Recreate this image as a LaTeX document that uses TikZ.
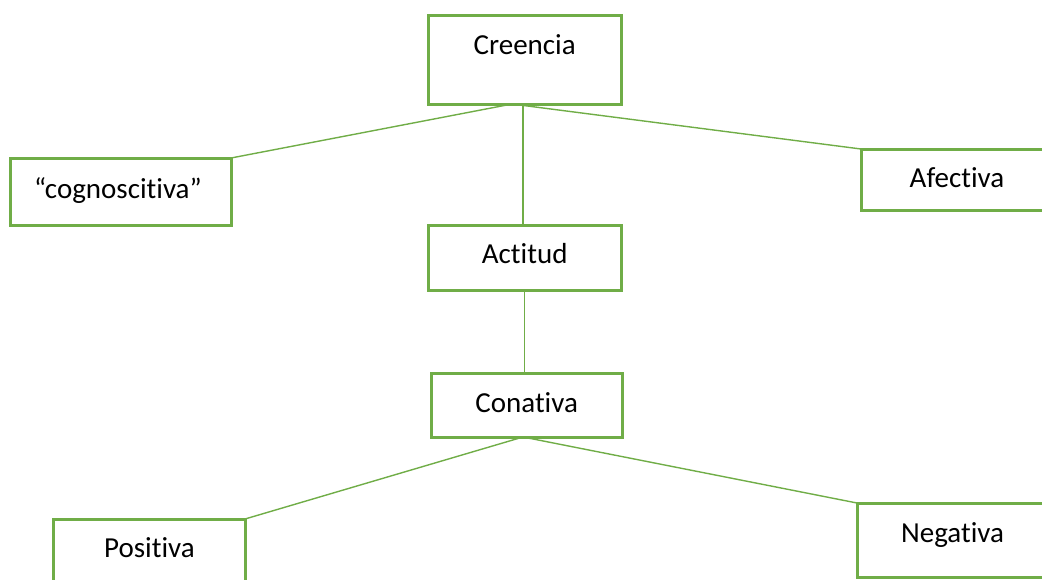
\documentclass[tikz,border=0pt]{standalone}
\usepackage{fontspec}
\setmainfont{Carlito}[Ligatures=NoCommon]
\usetikzlibrary{backgrounds}
\definecolor{leaf}{HTML}{70AD47}
\begin{document}
\begin{tikzpicture}[x=1pt,y=-1pt,
  box/.style={draw=leaf, line width=3pt, fill=white, inner sep=0pt, outer sep=0pt,
    rectangle, minimum width=#1},
  lbl/.style={font=\fontsize{29}{35}\selectfont, anchor=base, inner sep=0pt},
  link/.style={draw=leaf, line width=1.4pt}]
\useasboundingbox (0,0) rectangle (1042,579);
\clip (0,0) rectangle (1042,579);

% boxes (the outer ones run past the page edge)
\node[box=193pt, minimum height=89pt] (creencia) at (524.5,59.5) {};
\node[box=221pt, minimum height=67pt] (cognos) at (120.5,191.5) {};
\node[box=209pt, minimum height=61pt] (afectiva) at (965.5,179.5) {};
\node[box=193pt, minimum height=65pt] (actitud) at (524.5,257.5) {};
\node[box=191pt, minimum height=64pt] (conativa) at (526.5,405) {};
\node[box=192pt, minimum height=91pt] (positiva) at (149,564.5) {};
\node[box=213pt, minimum height=74pt] (negativa) at (963.5,540) {};

% connectors, drawn behind the boxes
\coordinate (cb) at ([xshift=-12.5pt]creencia.south);
\coordinate (kb) at ([xshift=-3.5pt]conativa.south);
\begin{scope}[on background layer]
\draw[link] (cb) -- (cognos.north east);
\draw[link] (cb) -- (afectiva.north west);
\draw[link] ([xshift=-1.5pt]creencia.south) -- ([xshift=-1.5pt]actitud.north);
\draw[link] (actitud.south) -- (actitud.south |- conativa.north);
\draw[link] (kb) -- (positiva.north east);
\draw[link] (kb) -- (negativa.north west);
\end{scope}

% texts
\node[lbl] (tcreencia) at (524.7,54) {Creencia};
\node[lbl] (tcognos) at (118,198) {“cognoscitiva”};
\node[lbl] (tafectiva) at (957,187) {Afectiva};
\node[lbl] (tactitud) at (524.7,263) {Actitud};
\node[lbl] (tconativa) at (526.7,412) {Conativa};
\node[lbl] (tpositiva) at (149.5,557) {Positiva};
\node[lbl] (tnegativa) at (952.5,542) {Negativa};
\end{tikzpicture}
\end{document}
